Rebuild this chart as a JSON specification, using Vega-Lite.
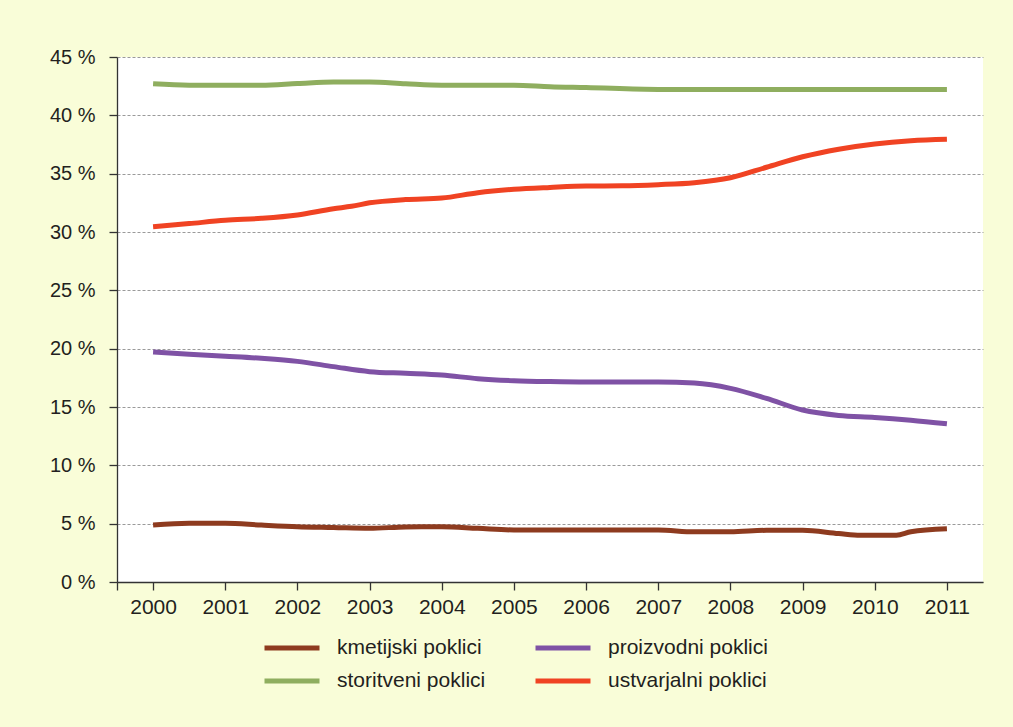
{
  "$schema": "https://vega.github.io/schema/vega-lite/v6.json",
  "width": 866,
  "height": 525,
  "autosize": {"type": "none"},
  "padding": {"left": 117, "top": 57, "right": 30, "bottom": 145},
  "background": "#F9FDD8",
  "config": {
    "view": {"fill": "white", "stroke": null},
    "font": "Liberation Sans"
  },
  "data": {
    "values": [
      {"year": 2000, "value": 4.89, "series": "kmetijski poklici"},
      {"year": 2000.5, "value": 5.04, "series": "kmetijski poklici"},
      {"year": 2001, "value": 5.04, "series": "kmetijski poklici"},
      {"year": 2001.5, "value": 4.88, "series": "kmetijski poklici"},
      {"year": 2002, "value": 4.74, "series": "kmetijski poklici"},
      {"year": 2002.5, "value": 4.67, "series": "kmetijski poklici"},
      {"year": 2003, "value": 4.6, "series": "kmetijski poklici"},
      {"year": 2003.5, "value": 4.72, "series": "kmetijski poklici"},
      {"year": 2004, "value": 4.74, "series": "kmetijski poklici"},
      {"year": 2004.5, "value": 4.6, "series": "kmetijski poklici"},
      {"year": 2005, "value": 4.46, "series": "kmetijski poklici"},
      {"year": 2006, "value": 4.46, "series": "kmetijski poklici"},
      {"year": 2007, "value": 4.46, "series": "kmetijski poklici"},
      {"year": 2007.5, "value": 4.3, "series": "kmetijski poklici"},
      {"year": 2008, "value": 4.3, "series": "kmetijski poklici"},
      {"year": 2008.5, "value": 4.43, "series": "kmetijski poklici"},
      {"year": 2009, "value": 4.43, "series": "kmetijski poklici"},
      {"year": 2009.5, "value": 4.15, "series": "kmetijski poklici"},
      {"year": 2009.8, "value": 4.0, "series": "kmetijski poklici"},
      {"year": 2010.3, "value": 4.0, "series": "kmetijski poklici"},
      {"year": 2010.5, "value": 4.3, "series": "kmetijski poklici"},
      {"year": 2011, "value": 4.56, "series": "kmetijski poklici"},

      {"year": 2000, "value": 19.71, "series": "proizvodni poklici"},
      {"year": 2000.5, "value": 19.52, "series": "proizvodni poklici"},
      {"year": 2001, "value": 19.35, "series": "proizvodni poklici"},
      {"year": 2001.5, "value": 19.17, "series": "proizvodni poklici"},
      {"year": 2002, "value": 18.91, "series": "proizvodni poklici"},
      {"year": 2002.5, "value": 18.46, "series": "proizvodni poklici"},
      {"year": 2003, "value": 18.03, "series": "proizvodni poklici"},
      {"year": 2003.5, "value": 17.89, "series": "proizvodni poklici"},
      {"year": 2004, "value": 17.74, "series": "proizvodni poklici"},
      {"year": 2004.5, "value": 17.43, "series": "proizvodni poklici"},
      {"year": 2005, "value": 17.26, "series": "proizvodni poklici"},
      {"year": 2005.5, "value": 17.18, "series": "proizvodni poklici"},
      {"year": 2006, "value": 17.14, "series": "proizvodni poklici"},
      {"year": 2007, "value": 17.14, "series": "proizvodni poklici"},
      {"year": 2007.5, "value": 17.05, "series": "proizvodni poklici"},
      {"year": 2008, "value": 16.6, "series": "proizvodni poklici"},
      {"year": 2008.5, "value": 15.74, "series": "proizvodni poklici"},
      {"year": 2009, "value": 14.74, "series": "proizvodni poklici"},
      {"year": 2009.5, "value": 14.28, "series": "proizvodni poklici"},
      {"year": 2010, "value": 14.11, "series": "proizvodni poklici"},
      {"year": 2010.5, "value": 13.87, "series": "proizvodni poklici"},
      {"year": 2011, "value": 13.56, "series": "proizvodni poklici"},

      {"year": 2000, "value": 42.7, "series": "storitveni poklici"},
      {"year": 2000.5, "value": 42.58, "series": "storitveni poklici"},
      {"year": 2001, "value": 42.58, "series": "storitveni poklici"},
      {"year": 2001.5, "value": 42.58, "series": "storitveni poklici"},
      {"year": 2002, "value": 42.72, "series": "storitveni poklici"},
      {"year": 2002.5, "value": 42.85, "series": "storitveni poklici"},
      {"year": 2003, "value": 42.85, "series": "storitveni poklici"},
      {"year": 2003.5, "value": 42.7, "series": "storitveni poklici"},
      {"year": 2004, "value": 42.58, "series": "storitveni poklici"},
      {"year": 2005, "value": 42.58, "series": "storitveni poklici"},
      {"year": 2005.5, "value": 42.45, "series": "storitveni poklici"},
      {"year": 2006, "value": 42.38, "series": "storitveni poklici"},
      {"year": 2007, "value": 42.22, "series": "storitveni poklici"},
      {"year": 2008, "value": 42.22, "series": "storitveni poklici"},
      {"year": 2009, "value": 42.22, "series": "storitveni poklici"},
      {"year": 2010, "value": 42.22, "series": "storitveni poklici"},
      {"year": 2011, "value": 42.22, "series": "storitveni poklici"},

      {"year": 2000, "value": 30.45, "series": "ustvarjalni poklici"},
      {"year": 2000.5, "value": 30.72, "series": "ustvarjalni poklici"},
      {"year": 2001, "value": 31.0, "series": "ustvarjalni poklici"},
      {"year": 2001.5, "value": 31.17, "series": "ustvarjalni poklici"},
      {"year": 2002, "value": 31.46, "series": "ustvarjalni poklici"},
      {"year": 2002.5, "value": 32.0, "series": "ustvarjalni poklici"},
      {"year": 2002.75, "value": 32.2, "series": "ustvarjalni poklici"},
      {"year": 2003, "value": 32.5, "series": "ustvarjalni poklici"},
      {"year": 2003.5, "value": 32.78, "series": "ustvarjalni poklici"},
      {"year": 2004, "value": 32.91, "series": "ustvarjalni poklici"},
      {"year": 2004.5, "value": 33.37, "series": "ustvarjalni poklici"},
      {"year": 2005, "value": 33.66, "series": "ustvarjalni poklici"},
      {"year": 2005.5, "value": 33.82, "series": "ustvarjalni poklici"},
      {"year": 2006, "value": 33.94, "series": "ustvarjalni poklici"},
      {"year": 2006.5, "value": 33.96, "series": "ustvarjalni poklici"},
      {"year": 2007, "value": 34.06, "series": "ustvarjalni poklici"},
      {"year": 2007.5, "value": 34.23, "series": "ustvarjalni poklici"},
      {"year": 2008, "value": 34.65, "series": "ustvarjalni poklici"},
      {"year": 2008.5, "value": 35.55, "series": "ustvarjalni poklici"},
      {"year": 2009, "value": 36.45, "series": "ustvarjalni poklici"},
      {"year": 2009.5, "value": 37.1, "series": "ustvarjalni poklici"},
      {"year": 2010, "value": 37.55, "series": "ustvarjalni poklici"},
      {"year": 2010.5, "value": 37.82, "series": "ustvarjalni poklici"},
      {"year": 2011, "value": 37.94, "series": "ustvarjalni poklici"}
    ]
  },
  "mark": {"type": "line", "strokeWidth": 5, "interpolate": "monotone", "strokeCap": "butt"},
  "encoding": {
    "x": {
      "field": "year",
      "type": "quantitative",
      "scale": {"domain": [1999.5, 2011.5], "nice": false, "zero": false},
      "axis": {
        "title": null,
        "grid": false,
        "values": [1999.5, 2000, 2001, 2002, 2003, 2004, 2005, 2006, 2007, 2008, 2009, 2010, 2011],
        "format": "d",
        "labelExpr": "datum.value < 2000 ? '' : datum.label",
        "labelPadding": 6,
        "labelFlush": false,
        "labelOverlap": false,
        "labelFontSize": 21,
        "labelColor": "#231F20",
        "domainColor": "#333333",
        "tickColor": "#333333",
        "tickSize": 8,
        "domainWidth": 1.3,
        "tickWidth": 1.3
      }
    },
    "y": {
      "field": "value",
      "type": "quantitative",
      "scale": {"domain": [0, 45], "nice": false},
      "axis": {
        "title": null,
        "values": [0, 5, 10, 15, 20, 25, 30, 35, 40, 45],
        "labelExpr": "datum.value + ' %'",
        "labelPadding": 14,
        "labelFontSize": 20,
        "labelColor": "#231F20",
        "domainColor": "#333333",
        "tickColor": "#333333",
        "tickSize": 8,
        "domainWidth": 1.3,
        "tickWidth": 1.3,
        "grid": true,
        "gridColor": "#9A9A9A",
        "gridDash": [3, 2],
        "gridWidth": 1.2
      }
    },
    "color": {
      "field": "series",
      "type": "nominal",
      "scale": {
        "domain": ["kmetijski poklici", "proizvodni poklici", "storitveni poklici", "ustvarjalni poklici"],
        "range": ["#8E3B1F", "#7F52A5", "#8FAE5F", "#F04323"]
      },
      "legend": {
        "title": null,
        "orient": "none",
        "legendX": 154,
        "legendY": 570,
        "columns": 2,
        "columnPadding": 39,
        "rowPadding": 2,
        "padding": 0,
        "symbolType": "M-1.5,0H1.5",
        "symbolSize": 1344,
        "symbolStrokeWidth": 5,
        "labelOffset": 24,
        "labelFontSize": 21,
        "labelColor": "#231F20",
        "direction": "horizontal"
      }
    }
  }
}
